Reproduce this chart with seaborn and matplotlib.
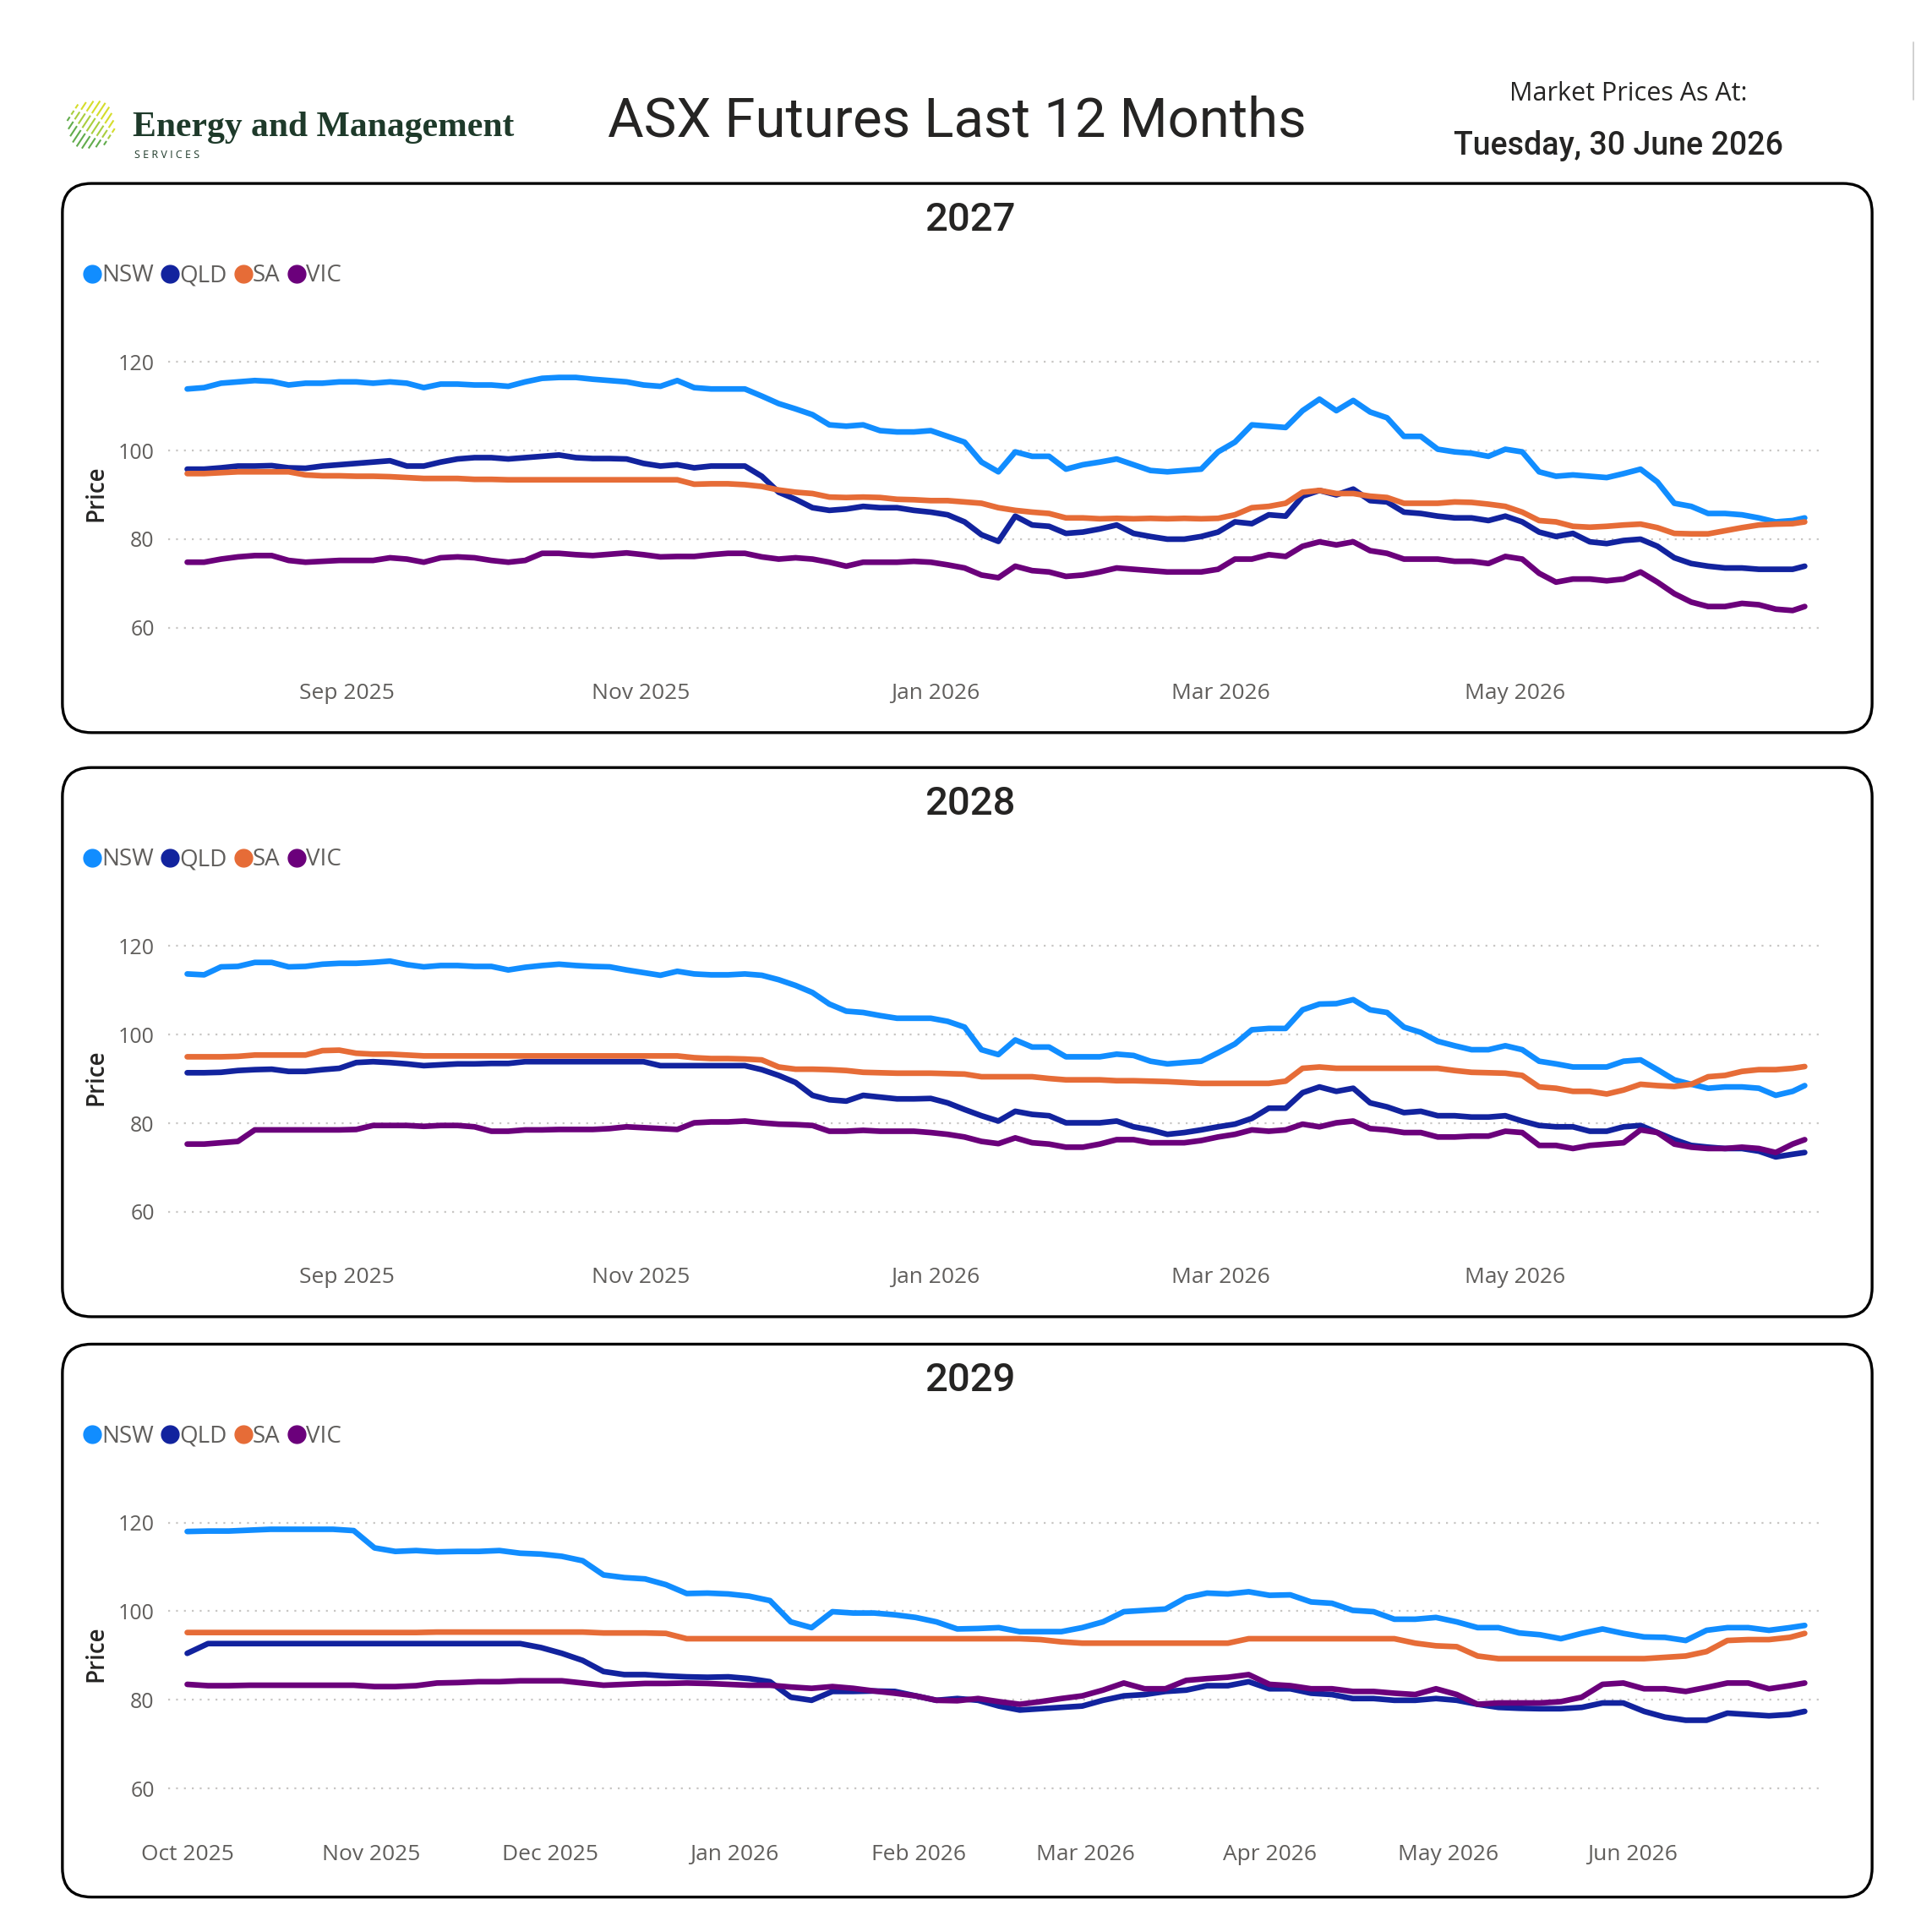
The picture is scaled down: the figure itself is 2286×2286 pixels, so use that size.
import numpy as np
import pandas as pd
import matplotlib
matplotlib.use("Agg")
import matplotlib.pyplot as plt
import matplotlib.dates as mdates
from matplotlib.patches import FancyBboxPatch
from matplotlib.lines import Line2D
import seaborn as sns

sns.set_theme(style="white")
plt.rcParams['font.family'] = ['Open Sans', 'DejaVu Sans']

# ---------------- data ----------------
REGIONS = ["NSW", "QLD", "SA", "VIC"]
COLORS = {"NSW": "#118DFF", "QLD": "#12239E", "SA": "#E66C37", "VIC": "#6B007B"}

# reading dates: every 3.5 days, plus the last trading day
dates_12m = list(pd.date_range("2025-07-30", periods=96, freq="84h")) + [pd.Timestamp("2026-06-30")]
dates_29 = list(pd.date_range("2025-10-01", periods=78, freq="84h")) + [pd.Timestamp("2026-06-30")]

nsw_2027 = [113.9, 114.2, 115.2, 115.5, 115.8, 115.6, 114.8, 115.2, 115.2, 115.5, 115.5, 115.2,
            115.5, 115.2, 114.2, 115.0, 115.0, 114.8, 114.8, 114.5, 115.5, 116.3, 116.5, 116.5,
            116.1, 115.8, 115.5, 114.8, 114.5, 115.8, 114.2, 113.9, 113.9, 113.9, 112.3, 110.6,
            109.4, 108.1, 105.8, 105.5, 105.8, 104.5, 104.2, 104.2, 104.5, 103.2, 101.9, 97.4,
            95.2, 99.7, 98.7, 98.7, 95.8, 96.8, 97.4, 98.1, 96.8, 95.5, 95.2, 95.5,
            95.8, 99.7, 101.9, 105.8, 105.5, 105.2, 109.0, 111.6, 109.0, 111.3, 108.7, 107.4,
            103.2, 103.2, 100.3, 99.7, 99.4, 98.7, 100.3, 99.7, 95.2, 94.2, 94.5, 94.2,
            93.9, 94.8, 95.8, 92.9, 88.1, 87.4, 85.8, 85.8, 85.5, 84.8, 83.9, 84.2, 84.8]
qld_2027 = [95.8, 95.8, 96.1, 96.5, 96.5, 96.6, 96.1, 96.0, 96.5, 96.8, 97.1, 97.4,
            97.7, 96.5, 96.5, 97.4, 98.1, 98.4, 98.4, 98.1, 98.4, 98.7, 99.0, 98.4,
            98.2, 98.2, 98.1, 97.1, 96.5, 96.8, 96.1, 96.5, 96.5, 96.5, 94.2, 90.6,
            89.0, 87.1, 86.5, 86.8, 87.4, 87.1, 87.1, 86.5, 86.1, 85.5, 83.9, 81.0,
            79.5, 85.2, 83.2, 82.9, 81.3, 81.6, 82.3, 83.2, 81.3, 80.6, 80.0, 80.0,
            80.6, 81.6, 83.9, 83.5, 85.5, 85.2, 89.7, 91.0, 90.0, 91.3, 88.7, 88.4,
            86.1, 85.8, 85.2, 84.8, 84.8, 84.2, 85.2, 83.9, 81.6, 80.6, 81.3, 79.4,
            79.0, 79.7, 80.0, 78.4, 75.8, 74.5, 73.9, 73.5, 73.5, 73.2, 73.2, 73.2, 73.9]
sa_2027 = [94.8, 94.8, 95.0, 95.2, 95.2, 95.2, 95.2, 94.5, 94.3, 94.3, 94.2, 94.2,
           94.1, 93.9, 93.7, 93.7, 93.7, 93.5, 93.5, 93.4, 93.4, 93.4, 93.4, 93.4,
           93.4, 93.4, 93.4, 93.4, 93.4, 93.4, 92.4, 92.5, 92.5, 92.3, 91.9, 91.1,
           90.6, 90.3, 89.5, 89.4, 89.5, 89.4, 89.0, 88.9, 88.7, 88.7, 88.4, 88.1,
           87.1, 86.5, 86.1, 85.8, 84.8, 84.8, 84.6, 84.7, 84.6, 84.7, 84.6, 84.7,
           84.6, 84.7, 85.5, 87.1, 87.4, 88.1, 90.6, 91.0, 90.3, 90.3, 89.7, 89.4,
           88.1, 88.1, 88.1, 88.4, 88.3, 87.9, 87.4, 86.1, 84.2, 83.9, 82.9, 82.7,
           82.9, 83.2, 83.4, 82.6, 81.3, 81.2, 81.2, 81.9, 82.6, 83.2, 83.4, 83.5, 83.9]
vic_2027 = [74.8, 74.8, 75.5, 76.0, 76.3, 76.3, 75.2, 74.8, 75.0, 75.2, 75.2, 75.2,
            75.8, 75.5, 74.8, 75.8, 76.0, 75.8, 75.2, 74.8, 75.2, 76.8, 76.8, 76.5,
            76.3, 76.6, 76.9, 76.5, 76.0, 76.1, 76.1, 76.5, 76.8, 76.8, 76.0, 75.5,
            75.8, 75.5, 74.8, 73.9, 74.8, 74.8, 74.8, 75.0, 74.8, 74.2, 73.5, 71.9,
            71.3, 73.9, 72.9, 72.6, 71.6, 71.9, 72.6, 73.5, 73.2, 72.9, 72.6, 72.6,
            72.6, 73.2, 75.5, 75.5, 76.5, 76.1, 78.4, 79.4, 78.7, 79.4, 77.4, 76.8,
            75.5, 75.5, 75.5, 75.0, 75.0, 74.5, 76.1, 75.5, 72.3, 70.3, 71.0, 71.0,
            70.6, 71.0, 72.6, 70.3, 67.7, 65.8, 64.8, 64.8, 65.5, 65.2, 64.2, 63.9, 64.8]

nsw_2028 = [113.7, 113.5, 115.3, 115.4, 116.3, 116.3, 115.3, 115.4, 115.9, 116.1, 116.1, 116.3,
            116.6, 115.8, 115.3, 115.6, 115.6, 115.4, 115.4, 114.6, 115.2, 115.6, 115.9, 115.6,
            115.4, 115.3, 114.6, 114.0, 113.4, 114.3, 113.7, 113.5, 113.5, 113.7, 113.4, 112.4,
            111.1, 109.5, 106.9, 105.3, 105.0, 104.3, 103.7, 103.7, 103.7, 103.0, 101.7, 96.6,
            95.5, 98.8, 97.2, 97.2, 95.0, 95.0, 95.0, 95.6, 95.3, 94.0, 93.4, 93.7,
            94.0, 95.9, 97.9, 101.1, 101.4, 101.4, 105.6, 106.9, 107.0, 107.9, 105.6, 105.0,
            101.7, 100.5, 98.5, 97.5, 96.6, 96.6, 97.5, 96.6, 94.0, 93.4, 92.7, 92.7,
            92.7, 94.0, 94.3, 92.1, 89.8, 88.8, 87.9, 88.2, 88.2, 87.9, 86.3, 87.2, 88.5]
qld_2028 = [91.4, 91.4, 91.5, 91.9, 92.1, 92.2, 91.7, 91.7, 92.1, 92.4, 93.7, 93.9,
            93.7, 93.4, 93.0, 93.2, 93.4, 93.4, 93.5, 93.5, 93.9, 93.9, 93.9, 93.9,
            93.9, 93.9, 93.9, 93.9, 93.0, 93.0, 93.0, 93.0, 93.0, 93.0, 92.1, 90.8,
            89.2, 86.3, 85.3, 85.0, 86.3, 85.9, 85.5, 85.5, 85.6, 84.6, 83.1, 81.7,
            80.5, 82.7, 82.0, 81.7, 80.1, 80.1, 80.1, 80.5, 79.2, 78.5, 77.5, 77.9,
            78.5, 79.2, 79.8, 81.1, 83.4, 83.4, 86.9, 88.2, 87.2, 87.9, 84.6, 83.7,
            82.4, 82.7, 81.7, 81.7, 81.4, 81.4, 81.7, 80.5, 79.5, 79.2, 79.2, 78.2,
            78.2, 79.2, 79.5, 77.9, 76.3, 75.0, 74.6, 74.3, 74.3, 73.7, 72.4, 73.0, 73.4]
sa_2028 = [95.0, 95.0, 95.0, 95.1, 95.4, 95.4, 95.4, 95.4, 96.4, 96.5, 95.8, 95.6,
           95.6, 95.4, 95.2, 95.2, 95.2, 95.2, 95.2, 95.2, 95.2, 95.2, 95.2, 95.2,
           95.2, 95.2, 95.2, 95.2, 95.2, 95.2, 94.8, 94.6, 94.6, 94.5, 94.3, 92.7,
           92.2, 92.2, 92.1, 91.9, 91.5, 91.4, 91.3, 91.3, 91.3, 91.2, 91.1, 90.5,
           90.5, 90.5, 90.5, 90.1, 89.8, 89.8, 89.8, 89.6, 89.6, 89.5, 89.4, 89.2,
           89.0, 89.0, 89.0, 89.0, 89.0, 89.5, 92.4, 92.7, 92.4, 92.4, 92.4, 92.4,
           92.4, 92.4, 92.4, 91.9, 91.5, 91.4, 91.3, 90.8, 88.2, 87.9, 87.2, 87.2,
           86.6, 87.5, 88.8, 88.5, 88.3, 88.8, 90.5, 90.8, 91.7, 92.1, 92.1, 92.4, 92.8]
vic_2028 = [75.3, 75.3, 75.6, 75.9, 78.5, 78.5, 78.5, 78.5, 78.5, 78.5, 78.6, 79.5,
            79.5, 79.5, 79.3, 79.5, 79.5, 79.2, 78.2, 78.2, 78.5, 78.5, 78.6, 78.6,
            78.6, 78.8, 79.2, 79.0, 78.8, 78.6, 80.1, 80.3, 80.3, 80.5, 80.1, 79.8,
            79.7, 79.5, 78.2, 78.2, 78.4, 78.2, 78.2, 78.2, 77.9, 77.5, 76.9, 75.9,
            75.4, 76.7, 75.6, 75.3, 74.6, 74.6, 75.3, 76.3, 76.3, 75.6, 75.6, 75.6,
            76.1, 76.9, 77.5, 78.5, 78.2, 78.5, 79.8, 79.2, 80.1, 80.5, 78.8, 78.5,
            77.9, 77.9, 76.9, 76.9, 77.1, 77.1, 78.2, 77.9, 75.0, 75.0, 74.3, 75.0,
            75.3, 75.6, 78.5, 77.9, 75.3, 74.6, 74.3, 74.3, 74.6, 74.3, 73.4, 75.3, 76.3]

nsw_2029 = [118.0, 118.1, 118.1, 118.3, 118.5, 118.5, 118.5, 118.5, 118.2, 114.3, 113.5, 113.7,
            113.4, 113.5, 113.5, 113.7, 113.1, 112.9, 112.4, 111.4, 108.2, 107.6, 107.3, 106.0,
            104.0, 104.1, 103.9, 103.4, 102.4, 97.6, 96.3, 99.9, 99.6, 99.6, 99.2, 98.6,
            97.6, 96.0, 96.1, 96.3, 95.4, 95.4, 95.4, 96.3, 97.6, 99.9, 100.2, 100.5,
            103.1, 104.1, 103.9, 104.4, 103.6, 103.7, 102.1, 101.8, 100.2, 99.9, 98.2, 98.2,
            98.6, 97.6, 96.3, 96.3, 95.1, 94.7, 93.8, 95.0, 96.0, 95.0, 94.2, 94.1,
            93.4, 95.7, 96.3, 96.3, 95.7, 96.3, 96.8]
qld_2029 = [90.5, 92.7, 92.7, 92.7, 92.7, 92.7, 92.7, 92.7, 92.7, 92.7, 92.7, 92.7,
            92.7, 92.7, 92.7, 92.7, 92.7, 91.8, 90.5, 88.9, 86.4, 85.7, 85.7, 85.4,
            85.2, 85.1, 85.2, 84.8, 84.1, 80.6, 79.9, 81.9, 81.9, 82.0, 81.9, 80.9,
            79.9, 80.3, 79.9, 78.6, 77.7, 78.0, 78.3, 78.6, 79.9, 80.9, 81.2, 81.9,
            82.2, 83.2, 83.2, 84.1, 82.5, 82.5, 81.5, 81.2, 80.3, 80.3, 79.9, 79.9,
            80.3, 79.9, 79.0, 78.3, 78.1, 78.0, 78.0, 78.3, 79.3, 79.3, 77.4, 76.1,
            75.4, 75.4, 77.0, 76.7, 76.4, 76.7, 77.4]
sa_2029 = [95.2, 95.2, 95.2, 95.2, 95.2, 95.2, 95.2, 95.2, 95.2, 95.2, 95.2, 95.2,
           95.3, 95.3, 95.3, 95.3, 95.3, 95.3, 95.3, 95.3, 95.1, 95.1, 95.1, 95.0,
           93.8, 93.8, 93.8, 93.8, 93.8, 93.8, 93.8, 93.8, 93.8, 93.8, 93.8, 93.8,
           93.8, 93.8, 93.8, 93.8, 93.8, 93.6, 93.1, 92.8, 92.8, 92.8, 92.8, 92.8,
           92.8, 92.8, 92.8, 93.8, 93.8, 93.8, 93.8, 93.8, 93.8, 93.8, 93.8, 92.8,
           92.2, 92.0, 89.9, 89.3, 89.3, 89.3, 89.3, 89.3, 89.3, 89.3, 89.3, 89.6,
           89.9, 90.9, 93.4, 93.6, 93.6, 94.1, 95.0]
vic_2029 = [83.5, 83.2, 83.2, 83.3, 83.3, 83.3, 83.3, 83.3, 83.3, 83.0, 83.0, 83.2,
            83.8, 83.9, 84.1, 84.1, 84.3, 84.3, 84.3, 83.8, 83.3, 83.5, 83.7, 83.7,
            83.8, 83.7, 83.5, 83.3, 83.3, 82.9, 82.6, 83.0, 82.6, 82.0, 81.5, 80.9,
            79.9, 79.8, 80.3, 79.6, 79.0, 79.6, 80.3, 80.9, 82.2, 83.8, 82.5, 82.5,
            84.4, 84.8, 85.1, 85.7, 83.5, 83.2, 82.5, 82.5, 81.9, 81.9, 81.5, 81.2,
            82.5, 81.2, 79.0, 79.3, 79.3, 79.3, 79.6, 80.6, 83.5, 83.8, 82.5, 82.5,
            81.9, 82.8, 83.8, 83.8, 82.5, 83.2, 83.8]

y_ticks = [60, 80, 100, 120]
months_12m = [1, 3, 5, 9, 11]
months_29 = [1, 2, 3, 4, 5, 6, 10, 11, 12]

panels = [
    ("2027", dates_12m, [nsw_2027, qld_2027, sa_2027, vic_2027], months_12m, 147, 587),
    ("2028", dates_12m, [nsw_2028, qld_2028, sa_2028, vic_2028], months_12m, 615, 1055),
    ("2029", dates_29, [nsw_2029, qld_2029, sa_2029, vic_2029], months_29, 1077, 1520),
]

# --------------- figure ---------------
S = 1548.0  # layout reference units
fig = plt.figure(figsize=(22.86, 22.86), dpi=100)
fig.patch.set_facecolor("white")

def fx(x):
    return x / S

def fy(y):
    return 1 - y / S

TXT = "#252423"
GREY = "#605E5C"

# header
fig.text(fx(767), fy(97), "ASX Futures Last 12 Months", ha="center", va="center",
         fontsize=47, color=TXT, family=["Roboto", "DejaVu Sans"])
fig.text(fx(1305), fy(75), "Market Prices As At:", ha="center", va="center",
         fontsize=22, color=TXT, family=["Open Sans", "DejaVu Sans"])
fig.text(fx(1297), fy(117), "Tuesday, 30 June 2026", ha="center", va="center",
         fontsize=27, color=TXT, fontweight="medium", family=["Roboto", "DejaVu Sans"])

# logo
fig.text(fx(106), fy(102), "Energy and Management", ha="left", va="center",
         fontsize=30, color="#1E3A2A", fontweight="bold",
         family=["Liberation Serif", "DejaVu Serif"])
fig.text(fx(108), fy(124.5), "S E R V I C E S", ha="left", va="center",
         fontsize=9, color="#1E3A2A", family=["Open Sans", "DejaVu Sans"])
dash_cols = ["#D5DD2C", "#A9CE3F", "#62AC4C"]
ux, uy = 0.55, 0.835
px_, py_ = 0.835, -0.55
cx, cy = 73.5, 99.0
lens = [18, 28, 36, 42, 44, 42, 36, 28, 18]
for i, L in enumerate(lens):
    off = (i - 4) * 4.4
    mx = cx + off * px_
    my = cy - off * py_
    for j, c in enumerate(dash_cols[::-1]):
        a = -L / 2 + j * L / 3
        b = a + L / 3 - 2.2
        xs = [fx(mx + a * ux), fx(mx + b * ux)]
        ys = [fy(my - a * uy), fy(my - b * uy)]
        fig.add_artist(Line2D(xs, ys, color=c, lw=1.5, transform=fig.transFigure,
                              solid_capstyle="butt"))

# faint vertical line in top right corner
fig.add_artist(Line2D([fx(1533), fx(1533)], [fy(34), fy(80)], color="#C8C8C8", lw=1.2,
                      transform=fig.transFigure))

for title, dts, series, months, top, bot in panels:
    dy = top - 147
    box = FancyBboxPatch((fx(50), fy(bot)), fx(1500) - fx(50), fy(top) - fy(bot),
                         boxstyle="round,pad=0,rounding_size=0.015",
                         transform=fig.transFigure, facecolor="white", edgecolor="black",
                         linewidth=2.4, zorder=0)
    fig.add_artist(box)

    fig.text(fx(777), fy(176 + dy), title, ha="center", va="center", fontsize=34,
             fontweight="medium", color=TXT, family=["Roboto", "DejaVu Sans"])

    ax = fig.add_axes([fx(135), fy(520 + dy), fx(1460) - fx(135), (520 - 270) / S])
    ax.set_facecolor("none")

    frames = []
    for reg, vals in zip(REGIONS, series):
        frames.append(pd.DataFrame({"date": dts, "price": vals, "region": reg}))
    df = pd.concat(frames, ignore_index=True)

    sns.lineplot(data=df, x="date", y="price", hue="region", hue_order=REGIONS,
                 palette=COLORS, linewidth=4.8, legend=False, ax=ax, zorder=3)
    for ln in ax.lines:
        ln.set_solid_joinstyle("round")
        ln.set_solid_capstyle("round")

    # scales
    px_per_day = (1446 - 150) / ((dts[-1] - dts[0]).days)
    left = dts[0] - pd.Timedelta(days=15 / px_per_day)
    right = dts[0] + pd.Timedelta(days=(1460 - 150) / px_per_day)
    ax.set_xlim(left, right)
    ax.set_ylim(120 - 230 * 20 / 71, 120 + 20 * 20 / 71)

    ax.set_yticks(y_ticks)
    ax.yaxis.grid(True, color="#C8C6C4", linestyle=(0, (1, 3.2)), linewidth=1.6)
    ax.xaxis.grid(False)
    ax.xaxis.set_major_locator(mdates.MonthLocator(bymonth=months))
    ax.xaxis.set_major_formatter(mdates.DateFormatter("%b %Y"))
    ax.tick_params(axis="x", length=0, pad=29, labelsize=19, labelcolor=GREY)
    ax.tick_params(axis="y", length=0, pad=12, labelsize=18, labelcolor=GREY)
    for sp in ax.spines.values():
        sp.set_visible(False)
    ax.set_xlabel("")
    ax.set_ylabel("")
    fig.text(fx(77), fy(395 + dy), "Price", rotation=90, ha="center", va="center",
             fontsize=20, color=TXT, fontweight="semibold")

    handles = [Line2D([], [], marker="o", linestyle="none", markersize=15,
                      markerfacecolor=COLORS[r], markeredgecolor=COLORS[r]) for r in REGIONS]
    fig.legend(handles, REGIONS, loc="center left", bbox_to_anchor=(fx(68), fy(221 + dy)),
               ncol=4, frameon=False, fontsize=20, labelcolor=GREY, handletextpad=0.1,
               columnspacing=0.4, borderaxespad=0, borderpad=0, handlelength=0.6)

fig.savefig("out.png", dpi=100, facecolor="white")
